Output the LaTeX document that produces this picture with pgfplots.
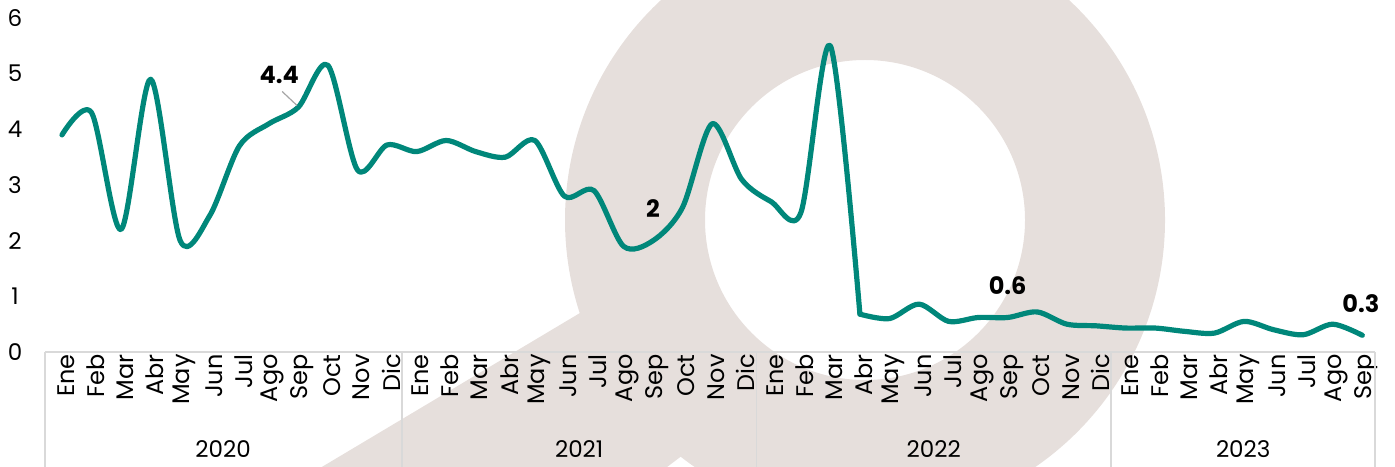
\documentclass[border=0pt]{standalone}
\usepackage{pgfplots}
\pgfplotsset{compat=1.18}
\usepackage{fontspec}
\setmainfont{Poppins}
\definecolor{teal1}{HTML}{00877A}
\definecolor{wm}{HTML}{E6DFDC}
\definecolor{gridg}{HTML}{D9D9D9}
\begin{document}
\begin{tikzpicture}
\useasboundingbox (-22.5pt,-57pt) rectangle (675pt,176pt);
\begin{scope}
\clip (-22.5pt,-57pt) rectangle (675pt,176pt);
\fill[wm,even odd rule] (410pt,66pt) circle (150pt) (410pt,66pt) circle (80pt);
\fill[wm] (270pt,21pt) -- (127.5pt,-64pt) -- (302.5pt,-64pt) -- (327.5pt,-45pt) -- (357.5pt,-24pt) -- cycle;
\end{scope}
\begin{axis}[
  scale only axis,
  width=665pt, height=167pt,
  xmin=-0.575, xmax=44.43,
  ymin=0, ymax=6,
  ytick={0,1,2,3,4,5,6},
  xtick={0,...,44},
  xticklabels={Ene,Feb,Mar,Abr,May,Jun,Jul,Ago,Sep,Oct,Nov,Dic,
               Ene,Feb,Mar,Abr,May,Jun,Jul,Ago,Sep,Oct,Nov,Dic,
               Ene,Feb,Mar,Abr,May,Jun,Jul,Ago,Sep,Oct,Nov,Dic,
               Ene,Feb,Mar,Abr,May,Jun,Jul,Ago,Sep},
  /pgf/number format/assume math mode=true,
  axis line style={draw=none},
  major tick length=0pt,
  tick style={draw=none},
  xticklabel style={rotate=90, anchor=east, font=\fontsize{12}{14}\selectfont, inner sep=1pt, yshift=-2pt},
  yticklabel style={anchor=center, xshift=-15pt, font=\fontsize{11.5}{13}\selectfont},
  clip=false,
]
\draw[gridg, line width=0.7pt] (axis cs:-0.575,0) -- (axis cs:44.43,0);
\foreach \xx in {-0.575,11.5,23.5,35.5,44.43}{
  \edef\tmp{\noexpand\draw[gridg, line width=0.7pt] (axis cs:\xx,0) -- (axis cs:\xx,-2.2);}\tmp
}
\node[font=\fontsize{11.5}{13}\selectfont] at (axis cs:5.45,-1.75) {2020};
\node[font=\fontsize{11.5}{13}\selectfont] at (axis cs:17.5,-1.75) {2021};
\node[font=\fontsize{11.5}{13}\selectfont] at (axis cs:29.5,-1.75) {2022};
\node[font=\fontsize{11.5}{13}\selectfont] at (axis cs:39.97,-1.75) {2023};
\addplot[teal1, line width=2.6pt, smooth, tension=0.5, line cap=round, line join=round] coordinates {
(0,3.9) (1,4.3) (2,2.2) (3,4.9) (4,2.0) (5,2.45) (6,3.7) (7,4.1) (8,4.4) (9,5.15) (10,3.27) (11,3.72)
(12,3.6) (13,3.8) (14,3.6) (15,3.5) (16,3.8) (17,2.8) (18,2.9) (19,1.9) (20,2.0) (21,2.6) (22,4.1) (23,3.1)
(24,2.7) (25,2.5) (26,5.5) (27,0.68)
};
\addplot[teal1, line width=2.6pt, smooth, tension=0.5, line cap=round, line join=round] coordinates {
(27,0.68) (28,0.6) (29,0.86) (30,0.55) (31,0.62) (32,0.62) (33,0.72) (34,0.5) (35,0.47)
(36,0.43) (37,0.43) (38,0.37) (39,0.34) (40,0.55) (41,0.4) (42,0.31) (43,0.5) (44,0.3)
};
\draw[gray!70, line width=0.6pt] (axis cs:7.45,4.68) -- (axis cs:7.95,4.43);
\node[font=\bfseries\fontsize{12}{14}\selectfont] at (axis cs:7.35,4.98) {4.4};
\node[font=\bfseries\fontsize{12}{14}\selectfont] at (axis cs:20,2.57) {2};
\node[font=\bfseries\fontsize{12}{14}\selectfont] at (axis cs:32,1.2) {0.6};
\node[font=\bfseries\fontsize{12}{14}\selectfont] at (axis cs:43.95,0.86) {0.3};
\end{axis}
\end{tikzpicture}
\end{document}
